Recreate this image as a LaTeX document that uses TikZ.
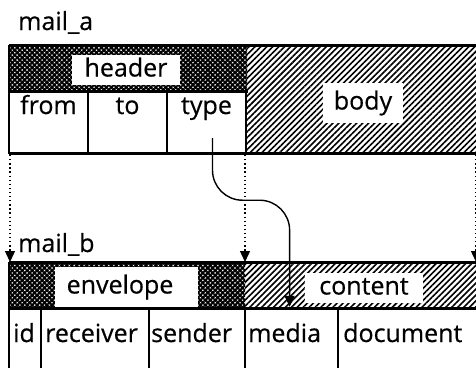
\documentclass[tikz,border=0pt]{standalone}
\usepackage{fontspec}
\setmainfont{Open Sans}[UprightFeatures={FakeBold=0.5}]
\usetikzlibrary{patterns.meta,arrows.meta}

\begin{document}
\begin{tikzpicture}[x=1pt,y=-1pt,
  every node/.style={inner sep=0pt, font=\fontsize{25}{30}\selectfont},
  frame/.style={line width=3pt},
  edge/.style={line width=2.6pt},
  rule/.style={line width=1.3pt},
  crossfill/.style={pattern={Hatch[angle=45,distance=3.5pt,line width=2pt]}},
  linefill/.style={pattern={Lines[angle=45,distance=4.2pt,line width=1.6pt]}},
  area/.style={anchor=north west, minimum height=#1},
  tag/.style={fill=white, text height=19pt, text depth=6pt},
  word/.style={anchor=base},
  lword/.style={anchor=base west},
  link/.style={line width=1.3pt, dash pattern=on 1.3pt off 2.8pt,
    -{Triangle[length=11pt,width=10pt]}},
  flow/.style={line width=1.4pt, rounded corners=30pt,
    -{Triangle[length=11pt,width=10pt]}}
]
\useasboundingbox (0,0) rectangle (476,367);
\clip (0,0) rectangle (476,367);

% ---------- record mail_a ----------
\node[lword] (namea) at (18,30) {mail\_a};
\node[area=44pt, minimum width=237pt, crossfill] (hdrarea) at (9,45) {};
\node[area=107pt, minimum width=240pt, linefill] (bodyarea) at (246,45) {};
\node[tag, minimum width=108pt, minimum height=30pt] (header) at (126,70) {header};
\node[tag, minimum width=80pt, minimum height=40pt] (body) at (363,103) {body};
\node[word] (from) at (48.5,114) {from};
\node[word] (to) at (127.5,114) {to};
\node[word] (type) at (206.5,114) {type};

\draw[frame] (hdrarea.north west) -- (bodyarea.north east);
\draw[frame] (hdrarea.south west) -- (hdrarea.south east);
\draw[frame] (bodyarea.south west -| hdrarea.west) -- (bodyarea.south east);
\draw[edge] (hdrarea.north west) -- (bodyarea.south west -| hdrarea.west);
\draw[rule] (88,89) -- (88,152);
\draw[rule] (167,89) -- (167,152);
\draw[line width=2pt] (246,89) -- (246,152);

% ---------- record mail_b ----------
\node[lword] (nameb) at (18,252) {mail\_b};
\node[area=46pt, minimum width=236pt, crossfill] (envarea) at (9,262) {};
\node[area=46pt, minimum width=240pt, linefill] (contarea) at (245,262) {};
\node[tag, minimum width=143pt, minimum height=40pt] (envelope) at (126.5,287) {envelope\kern13pt};
\node[tag, minimum width=118pt, minimum height=30pt] (content) at (364,288) {content};
\node[lword] (id) at (13,342) {id};
\node[lword] (receiver) at (45,342) {receiver};
\node[lword] (sender) at (151,342) {sender};
\node[lword] (media) at (248,342) {media};
\node[lword] (document) at (343,342) {document};

\draw[frame] (envarea.north west) -- (contarea.north east);
\draw[frame] (envarea.south west) -- (contarea.south east);
\draw[edge] (envarea.north west) -- (9,372);
\draw[rule] (41,308) -- (41,372);
\draw[rule] (149,308) -- (149,372);
\draw[rule] (245,308) -- (245,372);
\draw[rule] (338,308) -- (338,372);

% ---------- correspondences ----------
\coordinate (aL) at (10,155);
\coordinate (bL) at (10,262);
\coordinate (aM) at (245,155);
\coordinate (bM) at (245,262);
\coordinate (aR) at (476,155);
\coordinate (bR) at (476,262);
\draw[link] (aL) -- (bL);
\draw[link] (aM) -- (bM);
\draw[link] (aR) -- (bR);

\draw[flow] ([xshift=6pt,yshift=-18pt]type.south) -- ++(0,62)
  -| ([xshift=5pt,yshift=16pt]media.north);
\end{tikzpicture}
\end{document}
